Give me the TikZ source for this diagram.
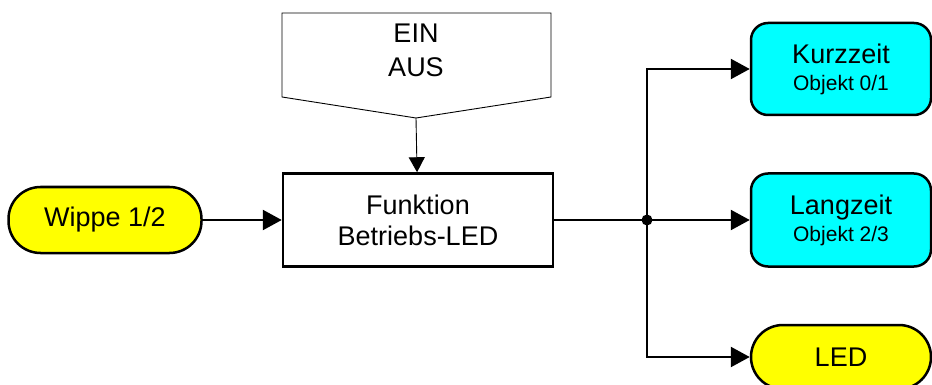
\documentclass[tikz,border=0pt]{standalone}
\usepackage{fontspec}
\setmainfont{Liberation Sans}
\usetikzlibrary{arrows.meta}
\definecolor{gelb}{RGB}{255,255,0}
\definecolor{tuerkis}{RGB}{0,255,255}

\begin{document}
\begin{tikzpicture}
	  [x=1pt,y=-1pt,
	   every node/.style={align=center,font=\fontsize{27}{31}\selectfont,inner sep=0pt},
	   pille/.style={draw,line width=2.5pt,fill=gelb,minimum width=180pt,rounded corners=32pt},
	   block/.style={draw,line width=2.5pt,fill=white,minimum width=270pt,minimum height=93pt},
	   ausgang/.style={draw,line width=2.5pt,fill=tuerkis,minimum width=180pt,minimum height=92pt,rounded corners=17pt},
	   pfeil/.style={line width=2.5pt,-{Triangle[length=19pt,width=20pt]}},
	   duenn/.style={line width=0.9pt,-{Triangle[length=15pt,width=16pt]}}]
	\useasboundingbox (0,0) rectangle (932,385);

	\node[pille,minimum width=193pt,minimum height=66pt] (wippe) at (105,220) {Wippe 1/2};
	\node[block] (fkt) at (418,220) {Funktion\\Betriebs-LED};
	\node (ein) at (416,50) {EIN\\[3pt]AUS};
	\node[ausgang] (kurz) at (841,69)  {Kurzzeit\\[-4pt]{\fontsize{21}{24}\selectfont Objekt 0/1}};
	\node[ausgang,minimum height=93pt] (lang) at (841,220) {Langzeit\\[-4pt]{\fontsize{21}{24}\selectfont Objekt 2/3}};
	\node[pille,minimum height=64pt] (led) at (841,357) {LED};
	\coordinate (spitze) at (416,118);
	\coordinate (knoten) at (647,220);

	% Vorgabe EIN/AUS
	\draw[line width=0.9pt] (282,13) -- (551,13) -- (551,97) -- (spitze) -- (282,97) -- cycle;
	\draw[duenn] (spitze) -- (fkt);

	\draw[pfeil] (wippe) -- (fkt);
	\draw[line width=2.5pt] (fkt) -- (knoten);
	\foreach \ziel in {kurz,lang,led}
	  \draw[pfeil] (knoten) |- (\ziel);
	\fill (knoten) circle (5.5pt);
	\end{tikzpicture}
\end{document}
